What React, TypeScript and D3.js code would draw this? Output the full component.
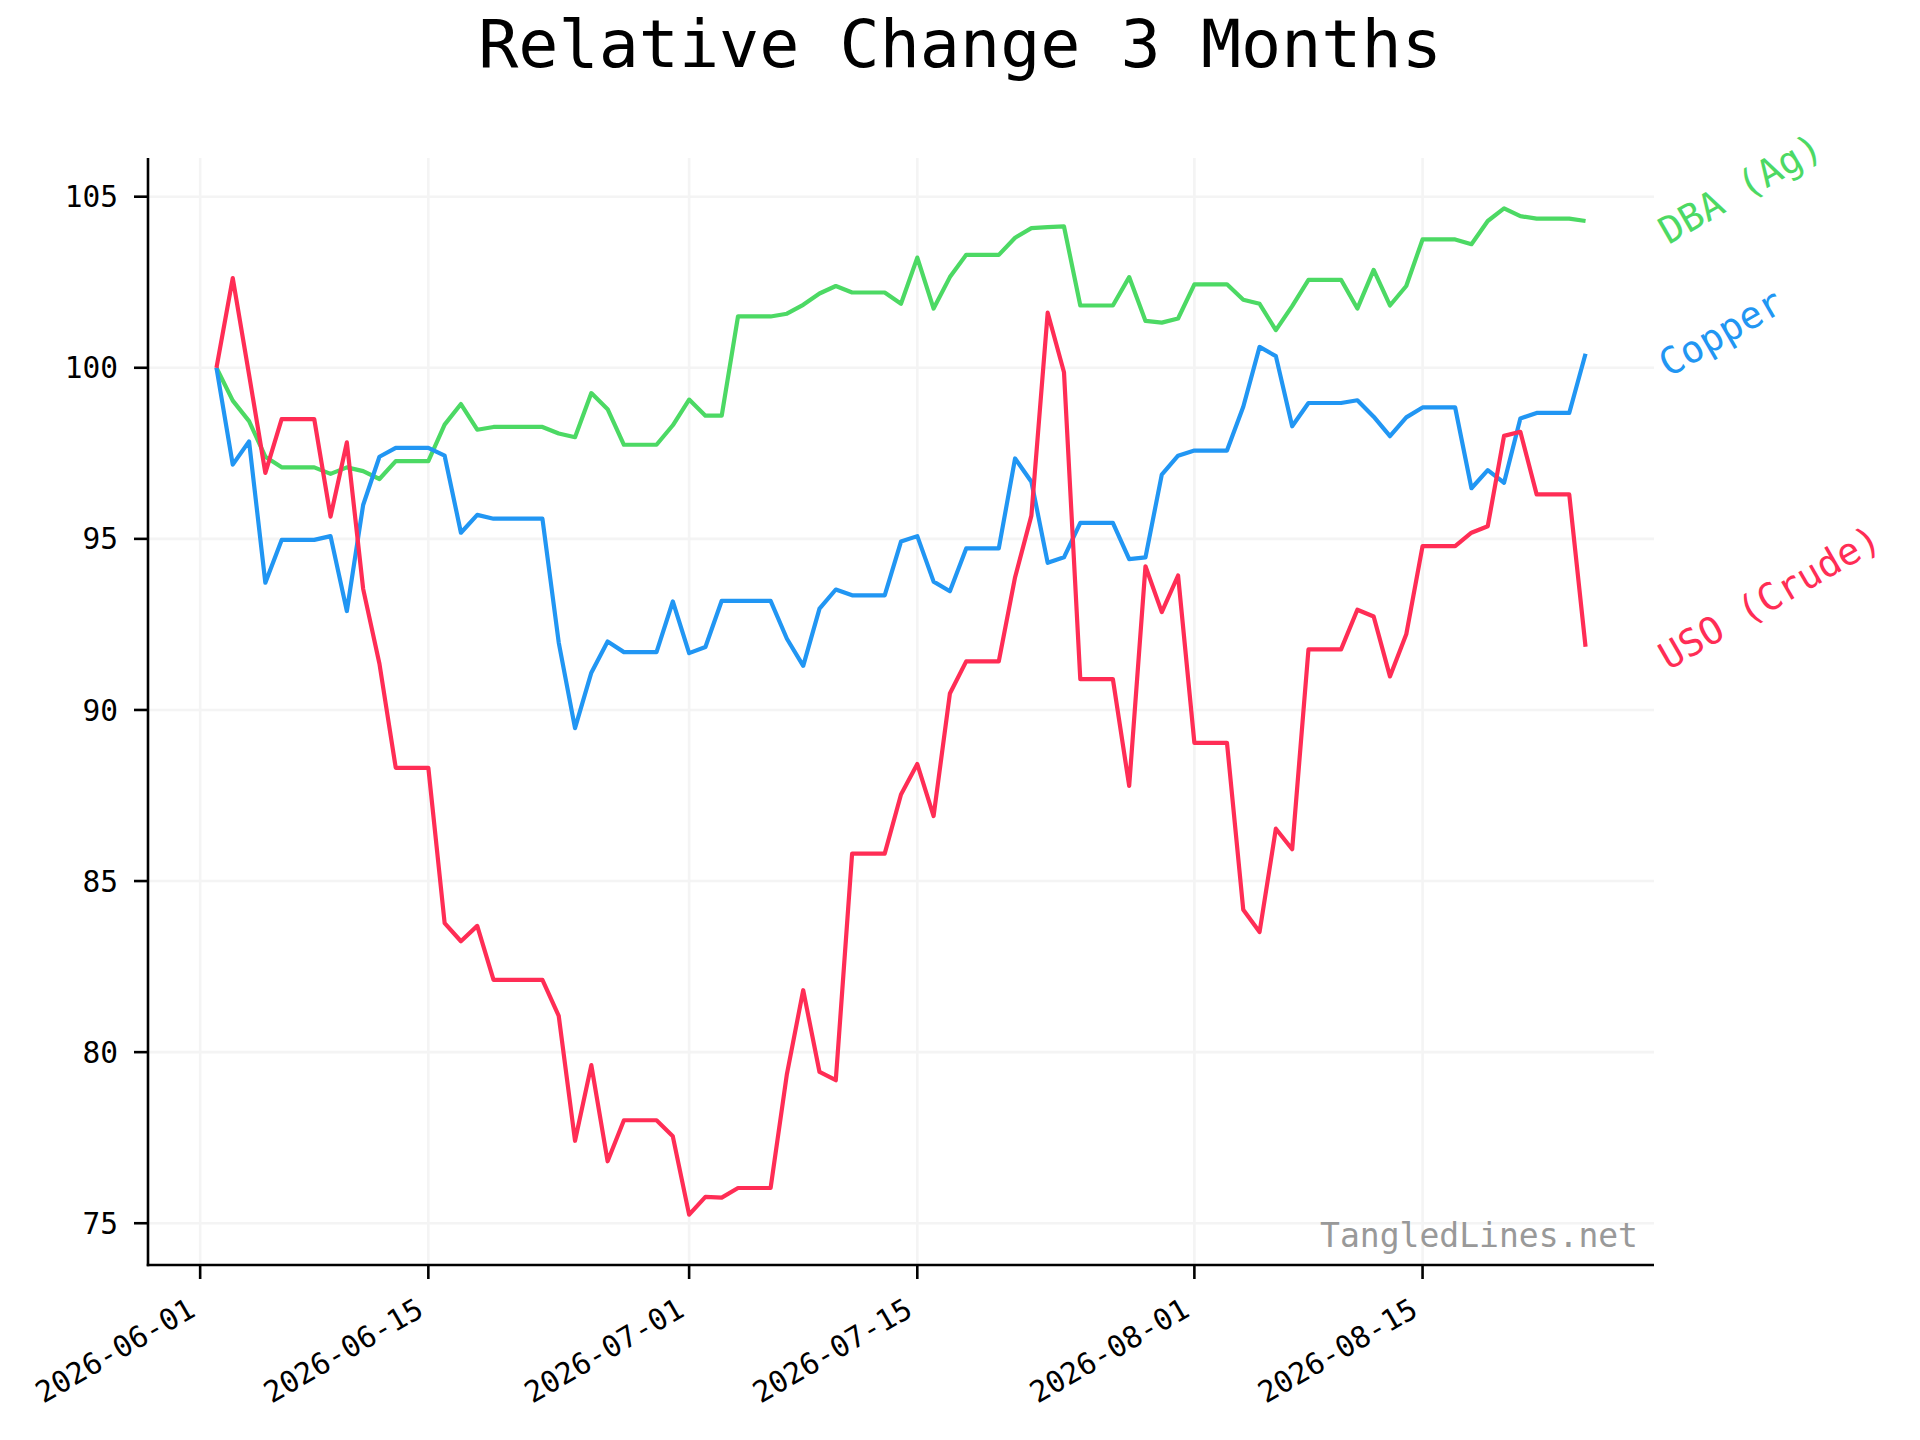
import React, { useEffect } from 'react';
import * as d3 from 'd3';

const DATES: string[] = [
  '2026-06-02', '2026-06-03', '2026-06-04', '2026-06-05', '2026-06-06', '2026-06-07', '2026-06-08', '2026-06-09', '2026-06-10', '2026-06-11',
  '2026-06-12', '2026-06-13', '2026-06-14', '2026-06-15', '2026-06-16', '2026-06-17', '2026-06-18', '2026-06-19', '2026-06-20', '2026-06-21',
  '2026-06-22', '2026-06-23', '2026-06-24', '2026-06-25', '2026-06-26', '2026-06-27', '2026-06-28', '2026-06-29', '2026-06-30',
  '2026-07-01', '2026-07-02', '2026-07-03', '2026-07-04', '2026-07-05', '2026-07-06', '2026-07-07', '2026-07-08', '2026-07-09', '2026-07-10',
  '2026-07-11', '2026-07-12', '2026-07-13', '2026-07-14', '2026-07-15', '2026-07-16', '2026-07-17', '2026-07-18', '2026-07-19', '2026-07-20',
  '2026-07-21', '2026-07-22', '2026-07-23', '2026-07-24', '2026-07-25', '2026-07-26', '2026-07-27', '2026-07-28', '2026-07-29', '2026-07-30',
  '2026-07-31',
  '2026-08-01', '2026-08-02', '2026-08-03', '2026-08-04', '2026-08-05', '2026-08-06', '2026-08-07', '2026-08-08', '2026-08-09', '2026-08-10',
  '2026-08-11', '2026-08-12', '2026-08-13', '2026-08-14', '2026-08-15', '2026-08-16', '2026-08-17', '2026-08-18', '2026-08-19', '2026-08-20',
  '2026-08-21', '2026-08-22', '2026-08-23', '2026-08-24', '2026-08-25',
];

const USO: number[] = [
  100, 102.62, 99.8, 96.93, 98.5, 98.5, 98.5, 95.65, 97.82, 93.54,
  91.35, 88.31, 88.31, 88.31, 83.77, 83.24, 83.69, 82.11, 82.11, 82.11,
  82.11, 81.06, 77.41, 79.62, 76.81, 78.01, 78.01, 78.01, 77.54, 75.25,
  75.77, 75.75, 76.03, 76.03, 76.03, 79.36, 81.81, 79.42, 79.18, 85.8,
  85.8, 85.8, 87.53, 88.42, 86.9, 90.48, 91.42, 91.42, 91.42, 93.88,
  95.68, 101.61, 99.87, 90.9, 90.9, 90.9, 87.78, 94.2, 92.86, 93.93,
  89.04, 89.04, 89.04, 84.16, 83.51, 86.53, 85.93, 91.77, 91.77, 91.77,
  92.93, 92.73, 90.98, 92.21, 94.79, 94.79, 94.79, 95.18, 95.37, 98.01,
  98.13, 96.3, 96.3, 96.3, 91.85,
];

const COPPER: number[] = [
  100, 97.17, 97.85, 93.72, 94.97, 94.97, 94.97, 95.08, 92.89, 95.99,
  97.4, 97.66, 97.66, 97.66, 97.43, 95.18, 95.7, 95.59, 95.59, 95.59,
  95.59, 91.97, 89.47, 91.09, 92.0, 91.69, 91.69, 91.69, 93.17, 91.66,
  91.84, 93.19, 93.19, 93.19, 93.19, 92.08, 91.29, 92.96, 93.52, 93.35,
  93.35, 93.35, 94.92, 95.08, 93.75, 93.47, 94.72, 94.72, 94.72, 97.35,
  96.67, 94.3, 94.46, 95.47, 95.47, 95.47, 94.41, 94.46, 96.88, 97.43,
  97.58, 97.58, 97.58, 98.86, 100.61, 100.34, 98.29, 98.97, 98.97, 98.97,
  99.05, 98.57, 98.0, 98.55, 98.84, 98.84, 98.84, 96.48, 97.01, 96.64,
  98.52, 98.68, 98.68, 98.68, 100.41,
];

const DBA: number[] = [
  100, 99.04, 98.44, 97.4, 97.09, 97.09, 97.09, 96.9, 97.09, 96.98,
  96.75, 97.27, 97.27, 97.27, 98.34, 98.94, 98.19, 98.27, 98.27, 98.27,
  98.27, 98.08, 97.97, 99.26, 98.79, 97.75, 97.75, 97.75, 98.32, 99.07,
  98.6, 98.6, 101.5, 101.5, 101.5, 101.58, 101.84, 102.17, 102.39, 102.2,
  102.2, 102.2, 101.87, 103.22, 101.73, 102.65, 103.3, 103.3, 103.3, 103.8,
  104.08, 104.11, 104.13, 101.82, 101.82, 101.82, 102.65, 101.37, 101.32, 101.44,
  102.44, 102.44, 102.44, 101.99, 101.87, 101.1, 101.8, 102.57, 102.57, 102.57,
  101.73, 102.86, 101.82, 102.39, 103.75, 103.75, 103.75, 103.61, 104.29, 104.66,
  104.43, 104.36, 104.36, 104.36, 104.29,
];

const X_TICKS: string[] = ['2026-06-01', '2026-06-15', '2026-07-01', '2026-07-15', '2026-08-01', '2026-08-15'];
const Y_TICKS: number[] = [75, 80, 85, 90, 95, 100, 105];

const SERIES_NAMES: string[] = ['DBA (Ag)', 'Copper', 'USO (Crude)'];
const SERIES_COLORS: string[] = ['#4cd964', '#2196f3', '#ff2d55'];
const SERIES_VALUES: number[][] = [DBA, COPPER, USO];

const TITLE = 'Relative Change 3 Months';
const WATERMARK = 'TangledLines.net';

const FONT = '"DejaVu Sans Mono", monospace';

export default function App() {
  useEffect(() => {
    document.body.style.margin = '0';
  }, []);

  const W = 1920;
  const H = 1440;
  const left = 148;
  const right = 1654;
  const top = 158;
  const bottom = 1265;

  const parse = d3.utcParse('%Y-%m-%d');
  const dates = DATES.map((s) => parse(s) as Date);
  const [dMin, dMax] = d3.extent(dates) as [Date, Date];
  const xPad = (dMax.getTime() - dMin.getTime()) * 0.05;
  const x = d3
    .scaleUtc()
    .domain([new Date(dMin.getTime() - xPad), new Date(dMax.getTime() + xPad)])
    .range([left, right]);

  const all = SERIES_VALUES.flat();
  const [vMin, vMax] = d3.extent(all) as [number, number];
  const yPad = (vMax - vMin) * 0.05;
  const y = d3.scaleLinear().domain([vMin - yPad, vMax + yPad]).range([bottom, top]);

  const line = d3
    .line<number>()
    .x((_, i) => x(dates[i]))
    .y((v) => y(v));

  const xTicks = X_TICKS.map((s) => ({ label: s, pos: x(parse(s) as Date) }));

  return (
    <div style={{ position: 'absolute', left: 0, top: 0 }}>
      <svg width={W} height={H} viewBox={`0 0 ${W} ${H}`} style={{ display: 'block', background: '#fff' }}>
        <rect x={0} y={0} width={W} height={H} fill="#ffffff" />
        {/* title */}
        <text x={W / 2} y={67} textAnchor="middle" fontFamily={FONT} fontSize={66.7} fill="#000">
          {TITLE}
        </text>

        {/* grid */}
        <g stroke="#f4f4f4" strokeWidth={2.6}>
          {Y_TICKS.map((t) => (
            <line key={'gy' + t} x1={left} x2={right} y1={y(t)} y2={y(t)} />
          ))}
          {xTicks.map((t) => (
            <line key={'gx' + t.label} x1={t.pos} x2={t.pos} y1={top} y2={bottom} />
          ))}
        </g>

        {/* series */}
        {SERIES_VALUES.map((vals, si) => (
          <path
            key={SERIES_NAMES[si]}
            d={line(vals) || ''}
            fill="none"
            stroke={SERIES_COLORS[si]}
            strokeWidth={4.2}
            strokeLinejoin="round"
            strokeLinecap="butt"
          />
        ))}

        {/* series labels */}
        {SERIES_VALUES.map((vals, si) => {
          const lx = x(dates[dates.length - 1]) + 83;
          const ly = y(vals[vals.length - 1]) + 24;
          return (
            <text
              key={'lab' + si}
              x={lx}
              y={ly}
              transform={`rotate(-30 ${lx} ${ly})`}
              fontFamily={FONT}
              fontSize={37.5}
              fill={SERIES_COLORS[si]}
              textAnchor="start"
            >
              {SERIES_NAMES[si]}
            </text>
          );
        })}

        {/* watermark */}
        <text x={1638} y={1247} textAnchor="end" fontFamily={FONT} fontSize={33} fill="#999999">
          {WATERMARK}
        </text>

        {/* spines */}
        <line x1={left} x2={left} y1={top} y2={bottom + 1.25} stroke="#000" strokeWidth={2.6} />
        <line x1={left - 1.25} x2={right} y1={bottom} y2={bottom} stroke="#000" strokeWidth={2.6} />

        {/* y ticks */}
        {Y_TICKS.map((t) => (
          <g key={'yt' + t}>
            <line x1={left - 14} x2={left} y1={y(t)} y2={y(t)} stroke="#000" strokeWidth={2.6} />
            <text
              x={118}
              y={y(t)}
              dy="0.36em"
              textAnchor="end"
              fontFamily={FONT}
              fontSize={29.5}
              fill="#000"
            >
              {t}
            </text>
          </g>
        ))}

        {/* x ticks */}
        {xTicks.map((t) => {
          const ax = t.pos - 3;
          const ay = bottom + 50;
          return (
            <g key={'xt' + t.label}>
              <line x1={t.pos} x2={t.pos} y1={bottom} y2={bottom + 14} stroke="#000" strokeWidth={2.6} />
              <text
                x={ax}
                y={ay}
                transform={`rotate(-30 ${ax} ${ay})`}
                textAnchor="end"
                fontFamily={FONT}
                fontSize={29.5}
                fill="#000"
              >
                {t.label}
              </text>
            </g>
          );
        })}
      </svg>
    </div>
  );
}
